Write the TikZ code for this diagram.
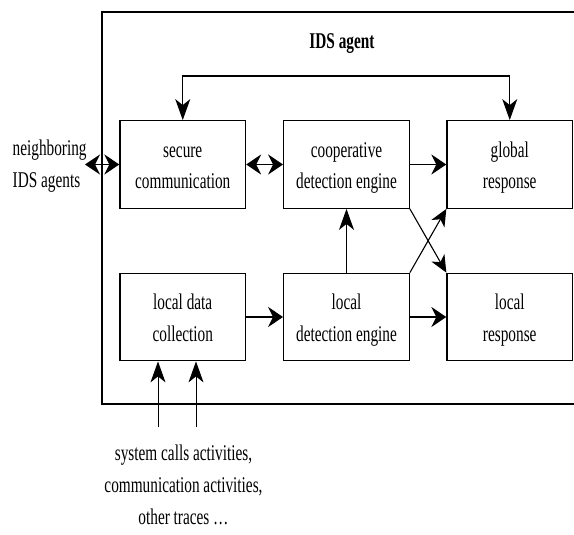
\documentclass[tikz,border=0pt]{standalone}
\usepackage{fontspec}
\setmainfont{Liberation Serif}[FakeStretch=0.68]
\usetikzlibrary{arrows.meta}
\newcommand\mystrut{\rule[-5pt]{0pt}{27pt}}
\tikzset{
  hd/.tip={Stealth[length=15pt,width=20pt,inset=5pt]},
  vd/.tip={Stealth[length=21pt,width=15pt,inset=6pt]},
  dd/.tip={Stealth[length=17pt,width=15pt,inset=5pt]},
  box/.style={draw, line width=1.3pt, minimum width=125.5pt, minimum height=87.5pt, inner sep=0pt, align=center},
  txt/.style={inner sep=0pt},
  harrow/.style={line width=1.5pt, -hd},
  hdouble/.style={line width=1.5pt, hd-hd},
  varrow/.style={line width=1.0pt, -vd},
  vdouble/.style={line width=1.3pt, vd-vd},
  darrow/.style={line width=1.1pt, -dd},
  frame/.style={line width=1.3pt}
}
\begin{document}
\begin{tikzpicture}[x=1pt,y=-1pt,font=\fontsize{22.5}{32}\selectfont]
\useasboundingbox (0,0) rectangle (574,535);
% outer frame (right side lies outside the picture)
\draw[frame] (590,12) -| (102,404) -- (590,404);
\node[txt, anchor=base, font=\bfseries\fontsize{22.5}{32}\selectfont] (title) at (342,49) {IDS agent};
% boxes
\node[box] (sec)  at (182.75,164.5) {\mystrut secure\\\mystrut communication};
\node[box] (coop) at (346.5,164.5)  {\mystrut cooperative\\\mystrut detection engine};
\node[box] (glob) at (509.75,164.5) {\mystrut global\\\mystrut response};
\node[box] (ld)   at (182.75,317)   {\mystrut local data\\\mystrut collection};
\node[box] (lde)  at (346.5,317)    {\mystrut local\\\mystrut detection engine};
\node[box] (lr)   at (509.75,317)   {\mystrut local\\\mystrut response};
% outside texts
\node[txt, anchor=north west, align=left] (nbr) at (12.5,133) {\mystrut neighboring\\\mystrut IDS agents};
\node[txt, anchor=north, align=center] (src) at (183.5,438) {\mystrut system calls activities,\\\mystrut communication activities,\\\mystrut other traces \ldots};
% connectors
\coordinate (nb) at (85,164.5);
\draw[hdouble] (nb) -- (sec.west);
\draw[hdouble] (sec.east) -- (coop.west);
\draw[harrow] (coop.east) -- (glob.west);
\draw[harrow] (ld.east) -- (lde.west);
\draw[harrow] (lde.east) -- (lr.west);
\draw[varrow] (lde.north) -- (coop.south);
\draw[darrow] (coop.south east) -- (lr.north west);
\draw[darrow] (lde.north east) -- (glob.south west);
\draw[vdouble] (sec.north) -- ++(0,-44) -| (glob.north);
\coordinate (in1) at (158,427);
\coordinate (in2) at (196,427);
\draw[varrow] (in1) -- (in1 |- ld.south);
\draw[varrow] (in2) -- (in2 |- ld.south);
\end{tikzpicture}
\end{document}
